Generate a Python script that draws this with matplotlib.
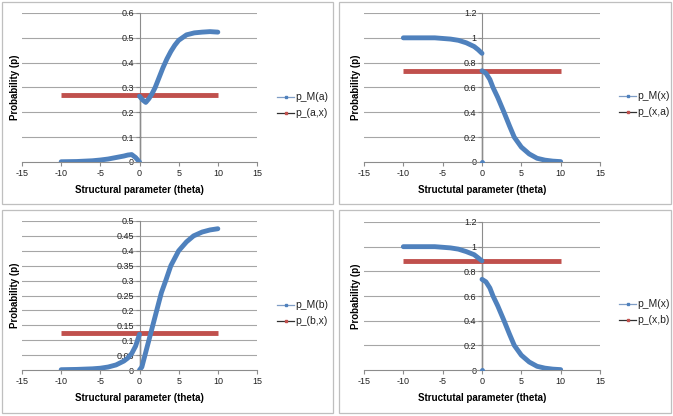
import matplotlib
matplotlib.use("Agg")
import matplotlib.pyplot as plt
from matplotlib.lines import Line2D
from matplotlib.patches import Rectangle

plt.rcParams['font.family'] = ['Liberation Sans', 'DejaVu Sans']
plt.rcParams['axes.unicode_minus'] = False

# ---------------- data ----------------
# Panel 1: p_M(a) and p_(a,x)
a_left_x = [-10, -8, -6, -5, -4, -3, -2, -1.5, -1, -0.5, 0]
a_left_y = [0.001, 0.002, 0.005, 0.008, 0.012, 0.018, 0.024, 0.028, 0.030, 0.018, 0.0]
a_right_x = [0, 0.4, 0.8, 1.2, 1.6, 2, 2.5, 3, 3.5, 4, 4.5, 5, 6, 7, 8, 9, 10]
a_right_y = [0.265, 0.25, 0.24, 0.255, 0.275, 0.30, 0.34, 0.38, 0.415, 0.445, 0.47, 0.49, 0.512, 0.52, 0.523, 0.525, 0.523]
p_ax = 0.27

# Panel 2: p_M(x) and p_(x,a)
x2_left_x = [-10, -8, -6, -5, -4, -3, -2, -1, -0.5, 0]
x2_left_y = [1.0, 1.0, 1.0, 0.995, 0.99, 0.98, 0.96, 0.93, 0.905, 0.875]
x_right_x = [0, 0.5, 1, 1.4, 2, 2.8, 3.5, 4.1, 5, 6, 7, 8, 9, 10]
x_right_y = [0.735, 0.715, 0.665, 0.60, 0.52, 0.40, 0.29, 0.20, 0.12, 0.065, 0.03, 0.015, 0.007, 0.003]
p_xa = 0.735

# Panel 3: p_M(b) and p_(b,x)
b_left_x = [-10, -8, -6, -5, -4, -3, -2, -1.5, -1, -0.5, 0]
b_left_y = [0.001, 0.002, 0.004, 0.006, 0.01, 0.017, 0.03, 0.04, 0.055, 0.08, 0.12]
b_right_x = [0, 0.3, 0.6, 1.2, 1.6, 2.2, 2.8, 3.35, 4, 5, 6, 6.9, 8, 9, 10]
b_right_y = [0.0, 0.01, 0.04, 0.10, 0.14, 0.20, 0.26, 0.30, 0.35, 0.40, 0.43, 0.45, 0.463, 0.47, 0.474]
p_bx = 0.125

# Panel 4: p_M(x) and p_(x,b)
x4_left_x = [-10, -8, -6, -5, -4, -3, -2, -1, -0.5, 0]
x4_left_y = [1.0, 1.0, 1.0, 0.995, 0.99, 0.98, 0.96, 0.935, 0.91, 0.885]
p_xb = 0.885

red_x = [-10, 10]
x_ticks = [-15, -10, -5, 0, 5, 10, 15]

BLUE = '#4F81BD'
RED = '#C0504D'

W, H = 673, 416
fig = plt.figure(figsize=(W / 100, H / 100), dpi=100)


def fbox(x0, y0, x1, y1):
    return [x0 / W, 1 - y1 / H, (x1 - x0) / W, (y1 - y0) / H]


panels = [
    dict(frame=(2, 2, 333, 204), ax=(22, 13, 257, 162), ymax=0.6, ystep=0.1,
         left=(a_left_x, a_left_y), right=(a_right_x, a_right_y), red=p_ax, vline=0.27,
         zero_pt=False, names=('p_M(a)', 'p_(a,x)'), leg=(277, 97), ylab_x=20,
         xlabel='Structural parameter (theta)',
         yticks=['0', '0.1', '0.2', '0.3', '0.4', '0.5', '0.6']),
    dict(frame=(339, 2, 671, 204), ax=(364, 13, 600, 162), ymax=1.2, ystep=0.2,
         left=(x2_left_x, x2_left_y), right=(x_right_x, x_right_y), red=p_xa, vline=0.875,
         zero_pt=True, names=('p_M(x)', 'p_(x,a)'), leg=(619, 96), ylab_x=361,
         xlabel='Structutal parameter (theta)',
         yticks=['0', '0.2', '0.4', '0.6', '0.8', '1', '1.2']),
    dict(frame=(2, 210, 333, 413), ax=(22, 221, 257, 370), ymax=0.5, ystep=0.05,
         left=(b_left_x, b_left_y), right=(b_right_x, b_right_y), red=p_bx, vline=0.12,
         zero_pt=False, names=('p_M(b)', 'p_(b,x)'), leg=(277, 305), ylab_x=20,
         xlabel='Structural parameter (theta)',
         yticks=['0', '0.05', '0.1', '0.15', '0.2', '0.25', '0.3', '0.35', '0.4', '0.45', '0.5']),
    dict(frame=(339, 210, 671, 413), ax=(364, 222, 600, 370), ymax=1.2, ystep=0.2,
         left=(x4_left_x, x4_left_y), right=(x_right_x, x_right_y), red=p_xb, vline=0.885,
         zero_pt=True, names=('p_M(x)', 'p_(x,b)'), leg=(619, 304), ylab_x=361,
         xlabel='Structutal parameter (theta)',
         yticks=['0', '0.2', '0.4', '0.6', '0.8', '1', '1.2']),
]

for p in panels:
    fx0, fy0, fx1, fy1 = p['frame']
    fig.patches.append(Rectangle((fx0 / W, 1 - fy1 / H), (fx1 - fx0) / W, (fy1 - fy0) / H,
                                 transform=fig.transFigure, fill=False,
                                 edgecolor='#BFBFBF', linewidth=0.9))
    ax = fig.add_axes(fbox(*p['ax']))
    ax.set_xlim(-15, 15)
    ax.set_ylim(0, p['ymax'])
    ax.set_xticks(x_ticks)
    n = len(p['yticks'])
    yt = [i * p['ystep'] for i in range(n)]
    ax.set_yticks(yt)
    ax.set_yticklabels(p['yticks'])
    for y in yt[1:]:
        ax.axhline(y, color='#A6A6A6', linewidth=0.8, zorder=0)
    for s in ['top', 'right']:
        ax.spines[s].set_visible(False)
    ax.spines['left'].set_position(('data', 0))
    ax.spines['left'].set_color('#8C8C8C')
    ax.spines['bottom'].set_color('#8C8C8C')
    ax.spines['left'].set_linewidth(0.8)
    ax.spines['bottom'].set_linewidth(0.8)
    ax.tick_params(axis='both', labelsize=6.5, colors='#8C8C8C', labelcolor='#222222',
                   length=3, width=0.8, pad=2)
    ax.tick_params(axis='y', pad=1)
    ax.patch.set_alpha(0)

    ax.plot([0, 0], [0, p['vline']], color='black', linewidth=0.9, zorder=2)
    ax.plot(red_x, [p['red'], p['red']], color=RED, linewidth=3.5, solid_capstyle='butt', zorder=3)
    lx, ly = p['left']
    rx, ry = p['right']
    ax.plot(lx, ly, color=BLUE, linewidth=3.5, solid_capstyle='round', zorder=4)
    ax.plot(rx, ry, color=BLUE, linewidth=3.5, solid_capstyle='round', zorder=4)
    if p['zero_pt']:
        ax.plot([0], [0], 'o', color=BLUE, markersize=2.5, zorder=5)

    ax.set_xlabel(p['xlabel'], fontsize=7, fontweight='bold', labelpad=5)
    ax.set_ylabel('Probability (p)', fontsize=7, fontweight='bold')
    ax_x0, ax_w = p['ax'][0], p['ax'][2] - p['ax'][0]
    ax.yaxis.set_label_coords((p['ylab_x'] - ax_x0) / ax_w, 0.5)

    # legend
    lx0, ly0 = p['leg']
    for k, (name, lc, mc) in enumerate([(p['names'][0], '#7F9DC6', BLUE),
                                        (p['names'][1], '#303030', RED)]):
        yy = 1 - (ly0 + 16 * k) / H
        fig.add_artist(Line2D([lx0 / W, (lx0 + 17) / W], [yy, yy], color=lc, linewidth=0.9,
                              transform=fig.transFigure))
        fig.add_artist(Line2D([(lx0 + 8.5) / W], [yy], marker='s', markersize=1.8, color=mc,
                              linestyle='none', transform=fig.transFigure))
        fig.text((lx0 + 18) / W, yy, name, fontsize=7.5, va='center', ha='left', color='#222222')

fig.savefig('out.png', dpi=100)
